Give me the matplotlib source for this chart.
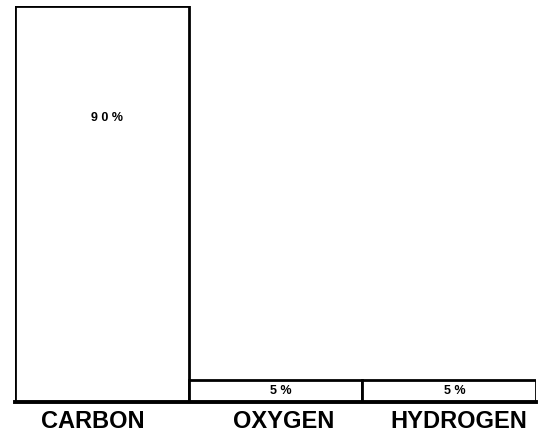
import matplotlib.pyplot as plt
from matplotlib.transforms import ScaledTranslation

elements = ['CARBON', 'OXYGEN', 'HYDROGEN']
percents = [90, 5, 5]
bar_labels = ['9 0 %', '5 %', '5 %']

plt.rcParams['font.family'] = ['Liberation Sans', 'DejaVu Sans']

fig = plt.figure(figsize=(5.41, 4.38), dpi=100)
ax = fig.add_axes([0.0277, 0.0822, 0.963, 0.904])

x = range(len(elements))
ax.bar(x, percents, width=1.0, color='white', edgecolor='black', linewidth=2.0)

# percentage text inside the bars
for i, (p, lab) in enumerate(zip(percents, bar_labels)):
    ypos = p * 0.716 if p > 50 else p / 2
    ax.text(i + 0.03, ypos, lab, ha='center', va='center',
            fontsize=9, fontweight='bold')

ax.set_xlim(-0.5, 2.5)
ax.set_ylim(0, 90)

for s in ['top', 'right', 'left']:
    ax.spines[s].set_visible(False)
ax.spines['bottom'].set_linewidth(2.8)

ax.set_yticks([])
ax.set_xticks(list(x))
ax.set_xticklabels(elements, fontsize=17, fontweight='bold')
ax.tick_params(axis='x', length=0, pad=6)

# nudge the labels like the original typesetting
shifts = [-0.09, 0.08, 0.10]
for lbl, dx in zip(ax.get_xticklabels(), shifts):
    lbl.set_transform(lbl.get_transform() + ScaledTranslation(dx, 0, fig.dpi_scale_trans))

fig.savefig('out.png', dpi=100)
